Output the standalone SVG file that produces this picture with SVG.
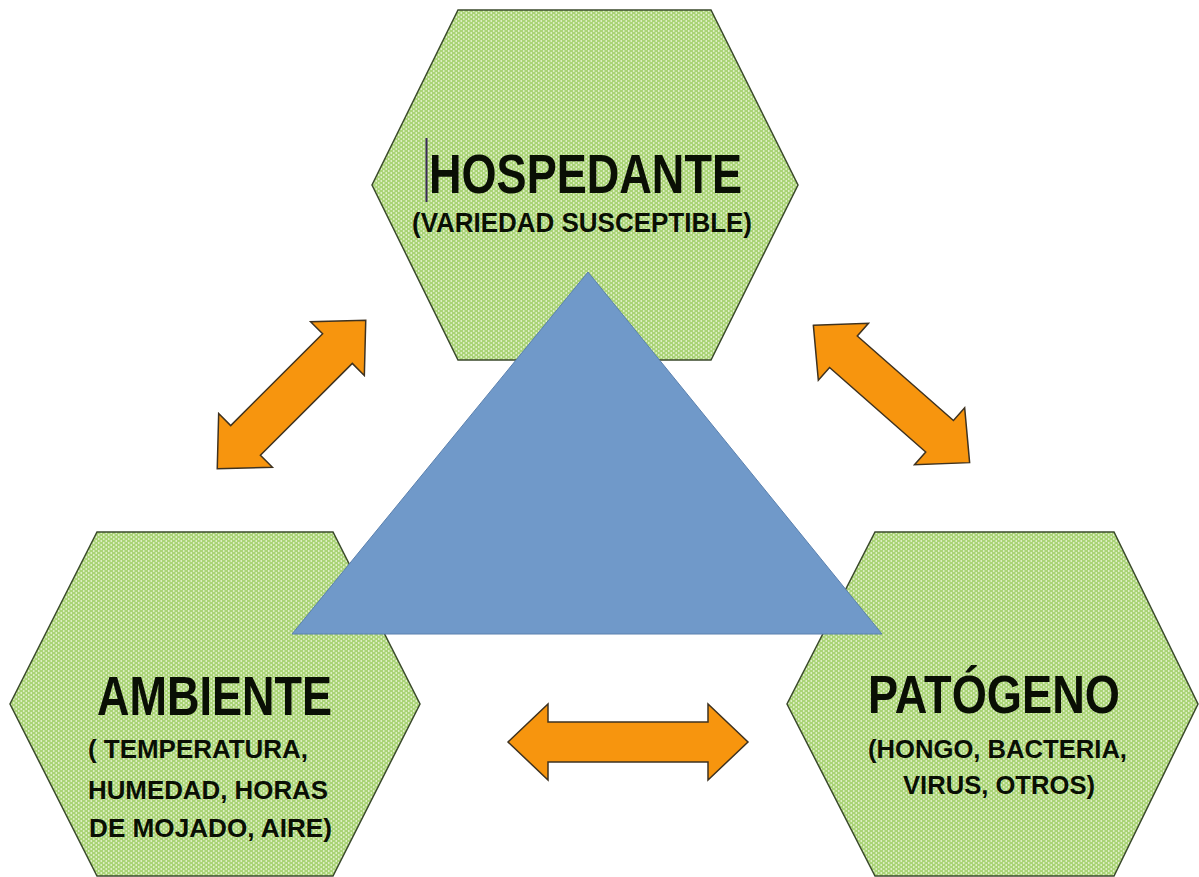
<svg xmlns="http://www.w3.org/2000/svg" width="1199" height="877" viewBox="0 0 1199 877">
  <defs>
    <pattern id="dots" width="5" height="4" patternUnits="userSpaceOnUse">
      <rect width="5" height="4" fill="#a9d375"/>
      <circle cx="1.25" cy="1" r="0.9" fill="#e4f2cf"/>
      <circle cx="3.75" cy="3" r="0.9" fill="#e4f2cf"/>
    </pattern>
    <style>
      .hex { fill: url(#dots); stroke: #3b4a2c; stroke-width: 1.5; }
      .tri { fill: #7099c9; stroke: #5a80ae; stroke-width: 1; }
      .arrow { fill: #f7950e; stroke: #3e3220; stroke-width: 1.5; stroke-linejoin: miter; }
      .title { font-family: "Liberation Sans", Arial, sans-serif; font-weight: bold; fill: #0a0f05; }
      .sub { font-family: "Liberation Sans", Arial, sans-serif; font-weight: bold; fill: #0a0f05; }
    </style>
  </defs>
  <rect width="1199" height="877" fill="#ffffff"/>

  <g id="hospedante">
    <polygon class="hex" points="458,10 711,10 798,185 711,360 458,360 372,185"/>
    <line x1="426.5" y1="138" x2="426.5" y2="202" stroke="#3a2a5a" stroke-width="2"/>
    <text class="title" x="429" y="193" font-size="55" textLength="313" lengthAdjust="spacingAndGlyphs">HOSPEDANTE</text>
    <text class="sub" x="412" y="232" font-size="27" textLength="340" lengthAdjust="spacingAndGlyphs">(VARIEDAD SUSCEPTIBLE)</text>
  </g>

  <g id="ambiente">
    <polygon class="hex" points="97,532 333,532 420,704 333,876 97,876 10,704"/>
    <text class="title" x="97" y="715" font-size="55" textLength="235" lengthAdjust="spacingAndGlyphs">AMBIENTE</text>
    <text class="sub" x="88" y="758" font-size="26" textLength="220" lengthAdjust="spacingAndGlyphs">( TEMPERATURA,</text>
    <text class="sub" x="88" y="799" font-size="26" textLength="240" lengthAdjust="spacingAndGlyphs">HUMEDAD, HORAS</text>
    <text class="sub" x="89" y="837" font-size="26" textLength="243" lengthAdjust="spacingAndGlyphs">DE MOJADO, AIRE)</text>
  </g>

  <g id="patogeno">
    <polygon class="hex" points="875,532 1114,532 1198,704 1114,876 875,876 787,704"/>
    <text class="title" x="868" y="713" font-size="53" textLength="252" lengthAdjust="spacingAndGlyphs">PATÓGENO</text>
    <text class="sub" x="868" y="758" font-size="26" textLength="259" lengthAdjust="spacingAndGlyphs">(HONGO, BACTERIA,</text>
    <text class="sub" x="903" y="794" font-size="26" textLength="192" lengthAdjust="spacingAndGlyphs">VIRUS, OTROS)</text>
  </g>

  <g id="triangulo">
    <polygon class="tri" points="588,272 882,634 292,634"/>
  </g>

  <g id="connectors">
    <path class="arrow" transform="translate(291.5,394.5) rotate(-45)" d="M-105,0 L-65,-38 L-65,-21 L65,-21 L65,-38 L105,0 L65,38 L65,21 L-65,21 L-65,38 Z"/>
    <path class="arrow" transform="translate(891.5,394) rotate(41.3)" d="M-104,0 L-64,-38 L-64,-21 L64,-21 L64,-38 L104,0 L64,38 L64,21 L-64,21 L-64,38 Z"/>
    <path class="arrow" transform="translate(628,742)" d="M-120,0 L-80,-38 L-80,-20 L80,-20 L80,-38 L120,0 L80,38 L80,20 L-80,20 L-80,38 Z"/>
  </g>
</svg>
